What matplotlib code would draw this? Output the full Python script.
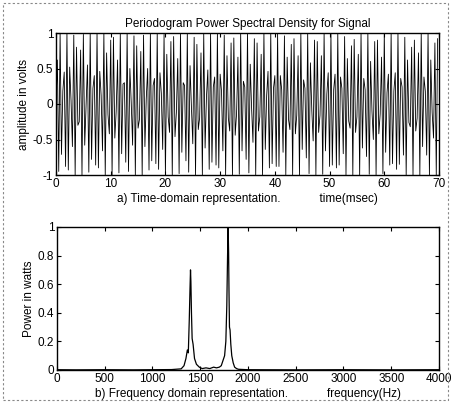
import matplotlib
matplotlib.use("Agg")
import matplotlib.pyplot as plt
import numpy as np
from matplotlib.patches import Rectangle

# ---- data ----
dt_ms = 0.25
signal = [
    0.00, 0.62, -0.95, 1.00, -0.71, 0.18, 0.45, -0.88, 1.00, -0.93, 0.52, 0.05, -0.60, 0.97,
    -1.00, 0.80, -0.30, -0.25, 0.76, -1.00, 0.98, -0.58, -0.02, 0.55, -0.96, 1.00, -0.78, 0.22,
    0.40, -0.86, 1.00, -0.90, 0.46, 0.12, -0.66, 0.99, -1.00, 0.72, -0.15, -0.42, 0.90, -1.00,
    0.94, -0.48, -0.10, 0.62, -0.97, 1.00, -0.70, 0.28, 0.30, -0.82, 1.00, -0.95, 0.50, 0.02,
    -0.58, 0.96, -1.00, 0.82, -0.34, -0.22, 0.74, -1.00, 0.97, -0.60, 0.08, 0.50, -0.93, 1.00,
    -0.80, 0.26, 0.36, -0.84, 1.00, -0.92, 0.44, 0.15, -0.64, 0.98, -1.00, 0.70, -0.18, -0.40,
    0.88, -1.00, 0.95, -0.46, -0.12, 0.64, -0.98, 1.00, -0.68, 0.30, 0.26, -0.80, 1.00, -0.96,
    0.54, -0.04, -0.56, 0.94, -1.00, 0.84, -0.36, -0.20, 0.72, -1.00, 0.99, -0.62, 0.10, 0.48,
    -0.92, 1.00, -0.82, 0.24, 0.38, -0.86, 1.00, -0.90, 0.42, 0.18, -0.66, 0.97, -1.00, 0.68,
    -0.20, -0.38, 0.86, -1.00, 0.93, -0.44, -0.14, 0.66, -0.99, 1.00, -0.66, 0.32, 0.24, -0.78,
    1.00, -0.97, 0.56, -0.06, -0.54, 0.92, -1.00, 0.86, -0.38, -0.18, 0.70, -1.00, 1.00, -0.64,
    0.12, 0.46, -0.90, 1.00, -0.84, 0.22, 0.40, -0.88, 1.00, -0.88, 0.40, 0.20, -0.68, 0.96,
    -1.00, 0.66, -0.22, -0.36, 0.84, -1.00, 0.92, -0.42, -0.16, 0.68, -1.00, 1.00, -0.64, 0.34,
    0.22, -0.76, 1.00, -0.98, 0.58, -0.08, -0.52, 0.90, -1.00, 0.88, -0.40, -0.16, 0.68, -0.99,
    1.00, -0.66, 0.14, 0.44, -0.88, 1.00, -0.86, 0.20, 0.42, -0.90, 1.00, -0.86, 0.38, 0.22,
    -0.70, 0.95, -1.00, 0.64, -0.24, -0.34, 0.82, -1.00, 0.91, -0.40, -0.18, 0.70, -1.00, 1.00,
    -0.62, 0.36, 0.20, -0.74, 1.00, -0.99, 0.60, -0.10, -0.50, 0.88, -1.00, 0.90, -0.42, -0.14,
    0.66, -0.98, 1.00, -0.68, 0.16, 0.42, -0.86, 1.00, -0.84, 0.18, 0.44, -0.92, 1.00, -0.85,
    0.36, 0.24, -0.72, 0.94, -1.00, 0.62, -0.26, -0.32, 0.80, -1.00, 0.90, -0.38, -0.20, 0.72,
    -1.00, 1.00, -0.60, 0.38, 0.18, -0.72, 1.00, -1.00, 0.62, -0.12, -0.48, 0.86, -1.00, 0.92,
]
time_ms = np.arange(len(signal)) * dt_ms

freq_hz = [0, 200, 500, 800, 1000, 1200, 1300, 1330, 1350, 1365, 1375, 1385, 1392, 1398,
           1402, 1408, 1415, 1425, 1440, 1460, 1490, 1520, 1560, 1600, 1640, 1670, 1700,
           1720, 1740, 1755, 1768, 1778, 1786, 1792, 1797, 1801, 1806, 1812, 1820, 1830,
           1845, 1860, 1880, 1900, 2000, 2500, 3000, 3500, 4000]
power_w = [0.002, 0.001, 0.002, 0.001, 0.002, 0.003, 0.008, 0.03, 0.08, 0.14, 0.12, 0.35,
           0.55, 0.70, 0.62, 0.40, 0.22, 0.18, 0.08, 0.04, 0.02, 0.01, 0.015, 0.01, 0.02,
           0.015, 0.02, 0.03, 0.07, 0.10, 0.20, 0.45, 0.80, 1.00, 0.82, 0.55, 0.30, 0.28,
           0.18, 0.10, 0.05, 0.02, 0.01, 0.005, 0.002, 0.001, 0.002, 0.001, 0.002]

t_ticks = [0, 10, 20, 30, 40, 50, 60, 70]
amp_ticks = [-1, -0.5, 0, 0.5, 1]
amp_labels = ["-1", "-0.5", "0", "0.5", "1"]
f_ticks = [0, 500, 1000, 1500, 2000, 2500, 3000, 3500, 4000]
p_ticks = [0, 0.2, 0.4, 0.6, 0.8, 1]
p_labels = ["0", "0.2", "0.4", "0.6", "0.8", "1"]

# ---- style ----
plt.rcParams['font.family'] = ['Liberation Sans Narrow', 'Liberation Sans', 'DejaVu Sans']
plt.rcParams['font.size'] = 8.5

fig = plt.figure(figsize=(4.52, 4.09), dpi=100)
W, H = 452, 409

def ax_rect(l, t, r, b):
    return [l / W, 1 - b / H, (r - l) / W, (b - t) / H]

ax1 = fig.add_axes(ax_rect(56, 33, 439, 175))
ax1.plot(time_ms, signal, color='black', linewidth=0.6)
ax1.set_xlim(0, 70)
ax1.set_ylim(-1, 1)
ax1.set_xticks(t_ticks)
ax1.set_yticks(amp_ticks)
ax1.set_yticklabels(amp_labels)
ax1.set_title("Periodogram Power Spectral Density for Signal", fontsize=8.5, pad=4)
ax1.set_xlabel("a) Time-domain representation.            time(msec)", labelpad=2)
ax1.set_ylabel("amplitude in volts", labelpad=2)

ax2 = fig.add_axes(ax_rect(57, 227, 439, 370))
ax2.plot(freq_hz, power_w, color='black', linewidth=0.9)
ax2.set_xlim(0, 4000)
ax2.set_ylim(0, 1)
ax2.set_xticks(f_ticks)
ax2.set_yticks(p_ticks)
ax2.set_yticklabels(p_labels)
ax2.set_xlabel("b) Frequency domain representation.            frequency(Hz)", labelpad=2)
ax2.set_ylabel("Power in watts", labelpad=2)

for ax in (ax1, ax2):
    ax.tick_params(direction='in', length=3, width=0.8, pad=2, top=True, right=True)
    for s in ax.spines.values():
        s.set_linewidth(1.0)

fig.add_artist(Rectangle((3 / W, 1 - 400 / H), 445 / W, 397 / H, transform=fig.transFigure,
                         fill=False, edgecolor='#888888', linewidth=0.8, linestyle=(0, (2, 2))))

fig.savefig("out.png", dpi=100)
